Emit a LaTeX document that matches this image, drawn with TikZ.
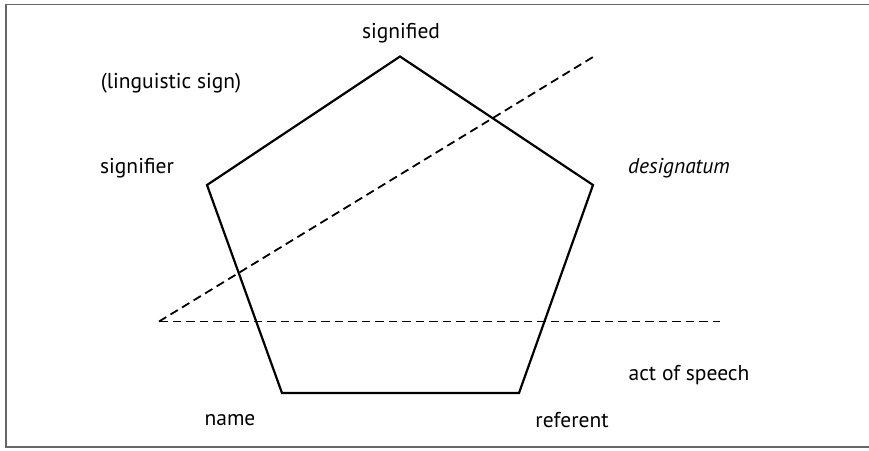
\documentclass[tikz,border=0pt]{standalone}
\usepackage{fontspec}
\setmainfont{PT Sans}
\usepackage{tikz}
\usetikzlibrary{positioning}

\begin{document}
\begin{tikzpicture}[x=1pt,y=-1pt,
    side/.style={line width=2.2pt,line join=miter},
    cut/.style={line width=1.8pt,dash pattern=on 8.5pt off 5pt},
    lbl/.style={font=\fontsize{21.5}{25}\selectfont,inner sep=0pt}]
    \useasboundingbox (0,0) rectangle (869,450);
    % frame, open on the right
    \draw[gray!80!black,line width=1.4pt] (869,4.5) -- (6,4.5) -- (6,447) -- (869,447);
    % corners of the pentagon
    \coordinate (top) at (400,56.5);
    \coordinate (lft) at (207,185);
    \coordinate (rgt) at (593,185);
    \coordinate (bl) at (282,393);
    \coordinate (br) at (519,393);
    \draw[side] (top) -- (rgt) -- (br) -- (bl) -- (lft) -- cycle;
    % the two dashed cuts
    \coordinate (cs) at (159,321.5);
    \coordinate (ce) at (720,321.5);
    \coordinate (de) at (593,57);
    \draw[cut] (cs) -- (ce);
    \draw[cut] (cs) -- (de);
    \node[lbl] (signified) at (401,33) {signified};
    \node[lbl] (ling) at (171,83) {(linguistic sign)};
    \node[lbl] (signifier) at (137,168) {signifier};
    \node[lbl] (design) at (679,168) {\itshape designatum};
    \node[lbl] (speech) at (689,375) {act of speech};
    \node[lbl] (name) at (230,420) {name};
    \node[lbl] (referent) at (572,420) {referent};
\end{tikzpicture}
\end{document}
